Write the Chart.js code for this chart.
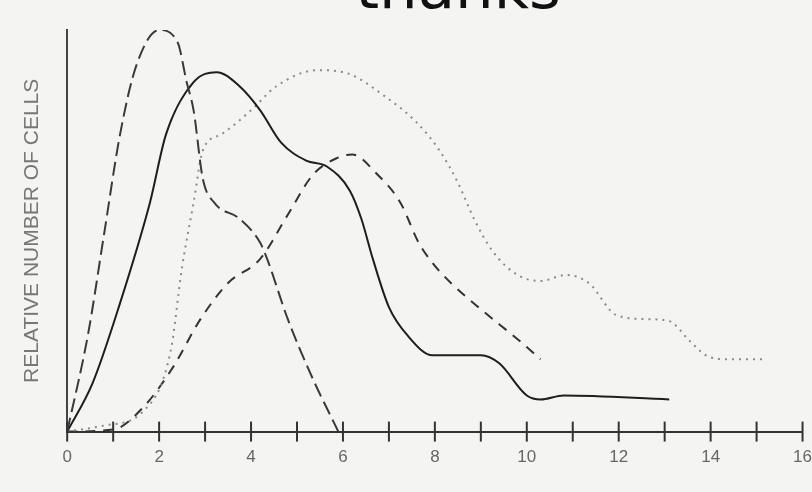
<!DOCTYPE html>
<html>
<head>
<meta charset="utf-8">
<script src="https://cdn.jsdelivr.net/npm/chart.js@4/dist/chart.umd.min.js"></script>
<style>
    html, body {
        margin: 0;
        padding: 0;
        background: #f4f4f2;
        overflow: hidden;
    }
    #wrap {
        position: relative;
        width: 812px;
        height: 492px;
        overflow: hidden;
    }
    #topText {
        position: absolute;
        left: 0;
        width: 916px;
        top: -44px;
        text-align: center;
        font-family: "DejaVu Sans", sans-serif;
        font-size: 61px;
        line-height: 1;
        color: #111;
        z-index: 2;
    }
</style>
</head>
<body>
<div id="wrap">
    <div id="topText">thanks</div>
    <!-- a bit wider than the window so the axis runs to the right edge like the scan -->
    <canvas id="cellsChart" width="828" height="492"></canvas>
</div>
<script>
// Axis labels
const xTickLabels = ['0', '2', '4', '6', '8', '10', '12', '14', '16'];
const yAxisTitle = 'RELATIVE NUMBER OF CELLS';

// Long dashes, early tall peak
const longDashX = [0, 0.45, 0.8, 1.15, 1.5, 2.0, 2.4, 2.6, 2.75, 2.95, 3.2, 3.75, 4.2, 4.35, 4.8, 5.35, 5.9];
const longDashY = [0, 24, 49, 74, 91, 100, 97, 87, 80, 63, 57, 53, 47, 43, 28, 13, 0];

// Solid line
const solidX = [0, 0.55, 1.15, 1.8, 2.15, 2.75, 3.25, 3.75, 4.2, 4.65, 5.2, 5.65, 6.15, 6.4, 6.65, 7.0, 7.4, 7.95, 9.0, 9.4, 10.0, 10.3, 10.8, 13.1];
const solidY = [0, 12, 32, 57, 74, 87, 89.5, 86, 80, 72, 67.5, 66, 60, 53, 43, 31, 24, 19, 19, 17, 9, 8, 9, 8];

// Dotted line
const dottedX = [0, 0.8, 1.65, 2.25, 2.5, 2.75, 2.95, 3.35, 4.0, 4.55, 5.45, 6.15, 6.85, 7.6, 8.1, 8.5, 8.85, 9.25, 9.8, 10.3, 10.85, 11.35, 11.95, 12.65, 13.1, 13.55, 13.9, 14.35, 15.2];
const dottedY = [0, 1.5, 5, 20, 41, 57, 70, 74, 80, 86, 90, 89, 84, 77, 70, 62, 53, 45, 39, 37.5, 39, 37, 29, 28, 27.5, 22.5, 19, 18, 18];

// Short dashes, later peak
const shortDashX = [0, 1.0, 1.65, 2.3, 2.9, 3.5, 4.2, 4.8, 5.35, 5.85, 6.2, 6.75, 7.25, 7.65, 7.95, 8.35, 9.05, 9.8, 10.3];
const shortDashY = [0, 0.5, 6, 16, 28, 37, 43, 54, 64, 68, 69, 64, 57, 47, 42, 37, 30, 23, 18];

function toPoints(xs, ys) {
    return xs.map((x, i) => ({ x: x, y: ys[i] }));
}

// Small tick marks that cross the x axis line
const crossTicks = {
    id: 'crossTicks',
    afterDraw(chart) {
        const ctx = chart.ctx;
        const xScale = chart.scales.x;
        const yBase = chart.scales.y.getPixelForValue(0);
        ctx.save();
        ctx.strokeStyle = '#333';
        ctx.lineWidth = 2;
        xScale.ticks.forEach(t => {
            const px = xScale.getPixelForValue(t.value);
            ctx.beginPath();
            ctx.moveTo(px, yBase - 10);
            ctx.lineTo(px, yBase + 10);
            ctx.stroke();
        });
        ctx.restore();
    }
};

const ctx = document.getElementById('cellsChart').getContext('2d');
new Chart(ctx, {
    type: 'line',
    data: {
        datasets: [
            {
                data: toPoints(longDashX, longDashY),
                borderColor: '#3a3a3a',
                borderWidth: 2,
                borderDash: [14, 6]
            },
            {
                data: toPoints(solidX, solidY),
                borderColor: '#1e1e1e',
                borderWidth: 2
            },
            {
                data: toPoints(dottedX, dottedY),
                borderColor: '#8a8a8a',
                borderWidth: 2,
                borderDash: [2, 5]
            },
            {
                data: toPoints(shortDashX, shortDashY),
                borderColor: '#333',
                borderWidth: 2,
                borderDash: [10, 8]
            }
        ]
    },
    options: {
        responsive: false,
        animation: false,
        cubicInterpolationMode: 'monotone',
        pointRadius: 0,
        layout: {
            padding: { left: 18, right: 0, top: 30, bottom: 8 }
        },
        plugins: {
            legend: { display: false },
            tooltip: { enabled: false }
        },
        scales: {
            x: {
                type: 'linear',
                min: 0,
                max: 16,
                grid: { display: false, drawTicks: false },
                border: { display: true, color: '#333', width: 2 },
                ticks: {
                    stepSize: 1,
                    padding: 16,
                    color: '#666',
                    font: { family: 'Liberation Sans Narrow, Liberation Sans, sans-serif', size: 17 },
                    maxRotation: 0,
                    autoSkip: false,
                    callback: v => (v % 2 === 0 ? xTickLabels[v / 2] : '')
                }
            },
            y: {
                min: 0,
                max: 100,
                grid: { display: false, drawTicks: false },
                border: { display: true, color: '#444', width: 2 },
                ticks: { display: false },
                title: {
                    display: true,
                    text: yAxisTitle,
                    color: '#777',
                    font: { family: 'Liberation Sans Narrow, Liberation Sans, sans-serif', size: 21 },
                    padding: { top: 2, bottom: 22 }
                }
            }
        }
    },
    plugins: [crossTicks]
});
</script>
</body>
</html>
